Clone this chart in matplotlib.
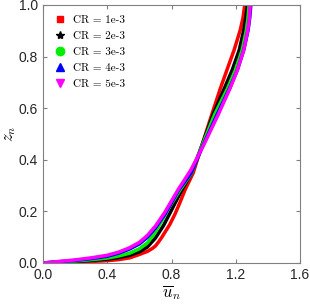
import matplotlib
matplotlib.use("Agg")
import matplotlib.pyplot as plt
from matplotlib.lines import Line2D

plt.rcParams['mathtext.fontset'] = 'cm'

labels = ["CR = 1e-3", "CR = 2e-3", "CR = 3e-3", "CR = 4e-3", "CR = 5e-3"]
colors = ["#ff0000", "#000000", "#00ee00", "#0000ff", "#ff00ff"]
markers = ["s", "*", "o", "^", "v"]

z_red = [0, 0.002, 0.004, 0.006, 0.009, 0.013, 0.02, 0.033, 0.045, 0.056, 0.066, 0.082, 0.1, 0.12, 0.15, 0.19, 0.235, 0.283, 0.349, 0.457, 0.574, 0.678, 0.748, 0.826, 0.903, 0.95, 1.0]
u_red = [0, 0.1, 0.2, 0.3, 0.4, 0.47, 0.54, 0.6, 0.65, 0.68, 0.70, 0.72, 0.74, 0.76, 0.79, 0.822, 0.853, 0.884, 0.935, 0.99, 1.05, 1.105, 1.145, 1.19, 1.228, 1.245, 1.256]

z_blk = [0, 0.003, 0.006, 0.01, 0.015, 0.021, 0.03, 0.043, 0.062, 0.097, 0.145, 0.205, 0.283, 0.349, 0.457, 0.574, 0.678, 0.748, 0.826, 0.903, 0.95, 1.0]
u_blk = [0, 0.1, 0.2, 0.3, 0.4, 0.47, 0.54, 0.6, 0.65, 0.70, 0.75, 0.80, 0.864, 0.925, 0.99, 1.058, 1.13, 1.178, 1.222, 1.25, 1.262, 1.273]

z_grn = [0, 0.004, 0.008, 0.013, 0.019, 0.027, 0.038, 0.055, 0.078, 0.12, 0.175, 0.205, 0.283, 0.349, 0.457, 0.574, 0.678, 0.748, 0.826, 0.903, 0.95, 1.0]
u_grn = [0, 0.1, 0.2, 0.3, 0.4, 0.47, 0.54, 0.6, 0.65, 0.70, 0.75, 0.775, 0.853, 0.925, 0.992, 1.067, 1.15, 1.198, 1.24, 1.266, 1.276, 1.283]

z_blu = [0, 0.005, 0.01, 0.017, 0.026, 0.038, 0.053, 0.074, 0.1, 0.136, 0.19, 0.283, 0.349, 0.457, 0.574, 0.678, 0.748, 0.826, 0.903, 0.95, 1.0]
u_blu = [0, 0.1, 0.2, 0.3, 0.4, 0.47, 0.535, 0.6, 0.65, 0.70, 0.76, 0.845, 0.922, 0.997, 1.083, 1.162, 1.21, 1.25, 1.277, 1.287, 1.294]

z_mag = [0, 0.006, 0.012, 0.02, 0.03, 0.042, 0.058, 0.08, 0.107, 0.143, 0.195, 0.283, 0.36, 0.457, 0.574, 0.678, 0.748, 0.826, 0.903, 0.95, 1.0]
u_mag = [0, 0.1, 0.2, 0.3, 0.4, 0.47, 0.535, 0.6, 0.65, 0.70, 0.757, 0.84, 0.92, 1.00, 1.09, 1.165, 1.21, 1.25, 1.275, 1.285, 1.29]

series_u = [u_red, u_blk, u_grn, u_blu, u_mag]
series_z = [z_red, z_blk, z_grn, z_blu, z_mag]

xticks = [0.0, 0.4, 0.8, 1.2, 1.6]
yticks = [0.0, 0.2, 0.4, 0.6, 0.8, 1.0]

fig = plt.figure(figsize=(3.1, 3.05), dpi=100)
ax = fig.add_axes([43/310, 1-263/305, 257/310, 258/305])

for u, z, c in zip(series_u, series_z, colors):
    ax.plot(u, z, color=c, lw=2.5, solid_capstyle='round', solid_joinstyle='round')

ax.set_xlim(0, 1.6)
ax.set_ylim(0, 1.0)
ax.set_xticks(xticks)
ax.set_yticks(yticks)
ax.set_xticklabels([f"{t:.1f}" for t in xticks])
ax.set_yticklabels([f"{t:.1f}" for t in yticks])

for s in ax.spines.values():
    s.set_color('#808080')
    s.set_linewidth(0.8)
ax.tick_params(direction='in', top=True, right=True, length=3, width=0.8,
               color='#808080', labelcolor='#262626', labelsize=10)
for lab in ax.get_xticklabels() + ax.get_yticklabels():
    lab.set_family('Liberation Sans')

ax.set_xlabel(r"$\overline{u}_n$", fontsize=12, labelpad=1)
ax.set_ylabel(r"$z_n$", fontsize=12)
ax.yaxis.set_label_coords(-0.098, 0.5)

handles = [Line2D([], [], linestyle='none', marker=m, color=c, markersize=ms)
           for m, c, ms in zip(markers, colors, [5, 6, 6, 6, 6])]
ax.legend(handles, labels, loc='upper left', bbox_to_anchor=(0.02, 0.985),
          frameon=False, prop={'family': 'cmr10', 'size': 8},
          handlelength=1.0, handletextpad=0.6, labelspacing=0.55, borderaxespad=0.2)

fig.savefig("out.png", dpi=100)
